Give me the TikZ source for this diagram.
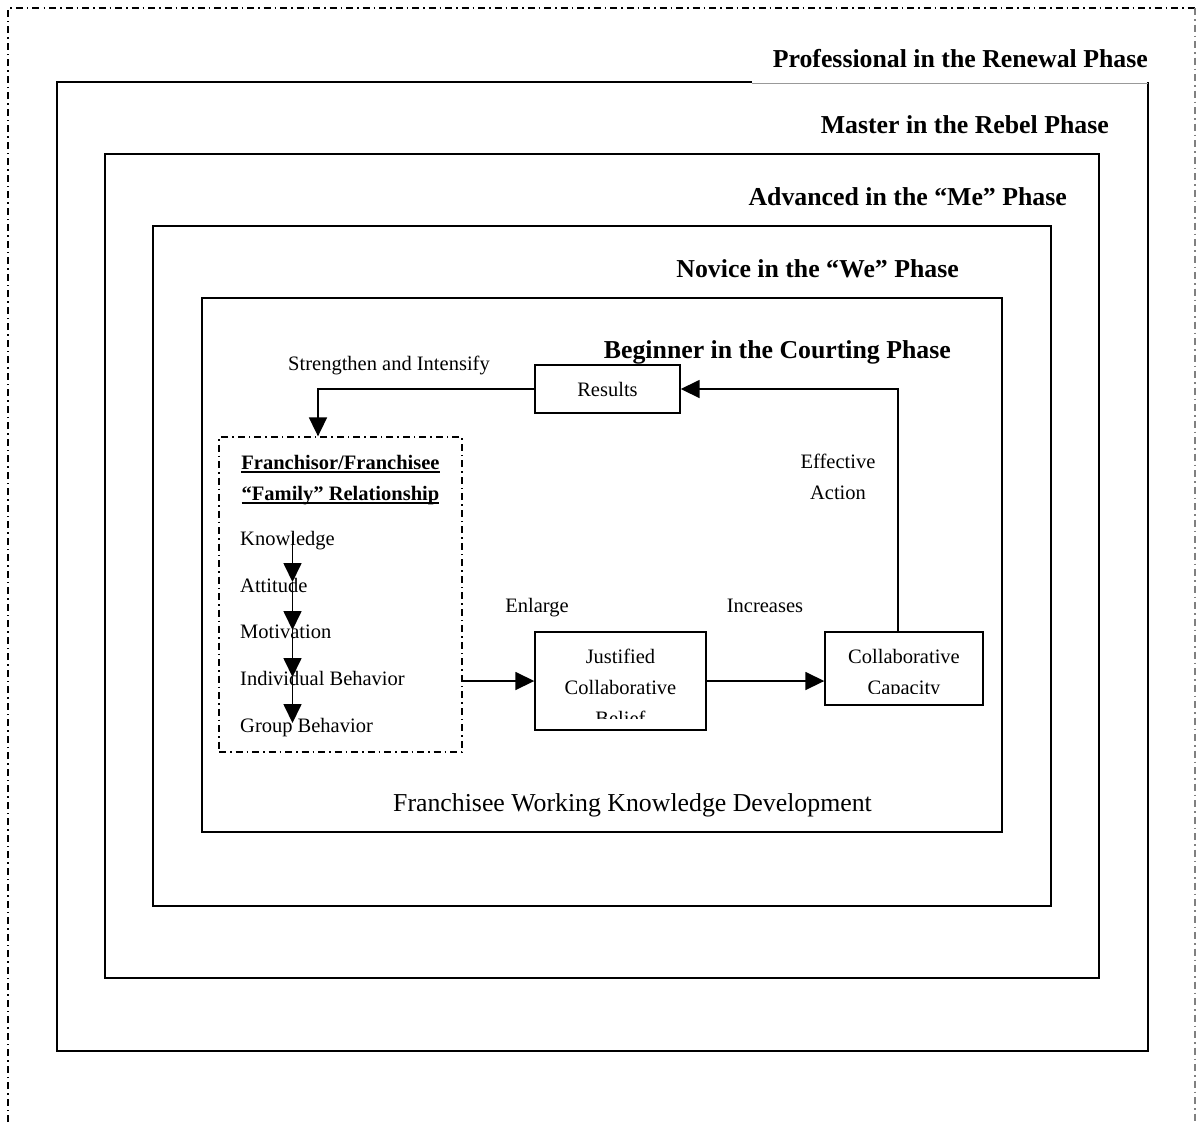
\documentclass[tikz,border=0pt]{standalone}
\usepackage{fontspec}
\setmainfont{Liberation Serif}
\usetikzlibrary{arrows.meta}
\newcommand\myul[1]{\setbox0\hbox{#1}\rlap{\rule[-3.5pt]{\wd0}{2pt}}\box0}
\begin{document}
\begin{tikzpicture}[x=1pt,y=-1pt,
  frame/.style={line width=1.4pt},
  dashdot/.style={line width=1.3pt,dash pattern=on 7pt off 4pt on 1.5pt off 4pt},
  conn/.style={line width=1.7pt,-{Triangle[length=19pt,width=18pt]}},
  phase/.style={font=\fontsize{25.8}{30}\selectfont\bfseries,inner sep=0pt,anchor=base east},
  lbl/.style={font=\fontsize{20.5}{31}\selectfont,inner sep=0pt,anchor=base,align=center},
  item/.style={font=\fontsize{20.5}{24}\selectfont,inner sep=0pt,anchor=base west},
  boxn/.style={draw,line width=1.4pt,inner sep=0pt}]
\useasboundingbox (0,0) rectangle (1196,1122);
% outer dash-dot frame
\draw[dashdot] (8,1122) -- (8,8) -- (1196,8);
\draw[dashdot,gray] (1195,8) -- (1195,1122);
% phase boxes
\draw[frame] (752,82) -- (57,82) -- (57,1051) -- (1148,1051) -- (1148,82);
\draw[line width=1pt,gray!80] (752,83) -- (1148,83);
\draw[frame] (105,154) rectangle (1099,978);
\draw[frame] (153,226) rectangle (1051,906);
\draw[frame] (202,298) rectangle (1002,832);
% phase labels
\node[phase] (lp) at (1148,67) {Professional in the Renewal Phase};
\node[phase] (lm) at (1109,133) {Master in the Rebel Phase};
\node[phase] (la) at (1067,205) {Advanced in the “Me” Phase};
\node[phase] (ln) at (959,277) {Novice in the “We” Phase};
\node[phase] (lb) at (951,358) {Beginner in the Courting Phase};
% main nodes
\node[boxn,minimum width=145pt,minimum height=48pt] (res) at (607.5,389) {};
\node[lbl] (rest) at (607.5,396) {Results};
\node[draw,dashdot,minimum width=243pt,minimum height=315pt,inner sep=0pt] (fam) at (340.5,594.5) {};
\node[boxn,minimum width=171pt,minimum height=98pt] (jcb) at (620.5,681) {};
\node[boxn,minimum width=158pt,minimum height=73pt] (cap) at (904,668.5) {};
\begin{scope}
\clip (536,633) rectangle (705,718);
\node[lbl] (jcbt) at (620.5,725) {Justified\\Collaborative\\Belief};
\end{scope}
\begin{scope}
\clip (826,633) rectangle (982,693.5);
\node[lbl] (capt) at (904,694) {Collaborative\\Capacity};
\end{scope}
% family box contents
\node[font=\fontsize{20.5}{31}\selectfont\bfseries,inner sep=0pt,anchor=base,align=center] (famt) at (340.5,500)
  {\myul{Franchisor/Franchisee}\\\myul{“Family” Relationship}};
\node[item] (k) at (240,545) {Knowledge};
\node[item] (a) at (240,592) {Attitude};
\node[item] (m) at (240,638) {Motivation};
\node[item] (ib) at (240,685) {Individual Behavior};
\node[item] (gb) at (240,732) {Group Behavior};
\coordinate (c0) at (292.5,533);
\coordinate (c1) at (292.5,582);
\coordinate (c2) at (292.5,630);
\coordinate (c3) at (292.5,677);
\coordinate (c4) at (292.5,723);
\draw[conn] (c0) -- (c1);
\draw[conn] (c1) -- (c2);
\draw[conn] (c2) -- (c3);
\draw[conn] (c3) -- (c4);
% connector labels
\node[lbl] (si) at (389,370) {Strengthen and Intensify};
\node[lbl] (ea) at (838,499) {Effective\\Action};
\node[lbl] (en) at (537,612) {Enlarge};
\node[lbl] (inc) at (765,612) {Increases};
\node[font=\fontsize{25.8}{30}\selectfont,inner sep=0pt,anchor=base] (fwk) at (632.5,811) {Franchisee Working Knowledge Development};
% connectors
\draw[conn] ([xshift=-6pt]cap.north) |- (res.east);
\draw[conn] (res.west) -| ([xshift=-22.5pt]fam.north);
\draw[conn] (fam.east |- jcb.west) -- (jcb.west);
\draw[conn] (jcb.east) -- (jcb.east -| cap.west);
\end{tikzpicture}
\end{document}
